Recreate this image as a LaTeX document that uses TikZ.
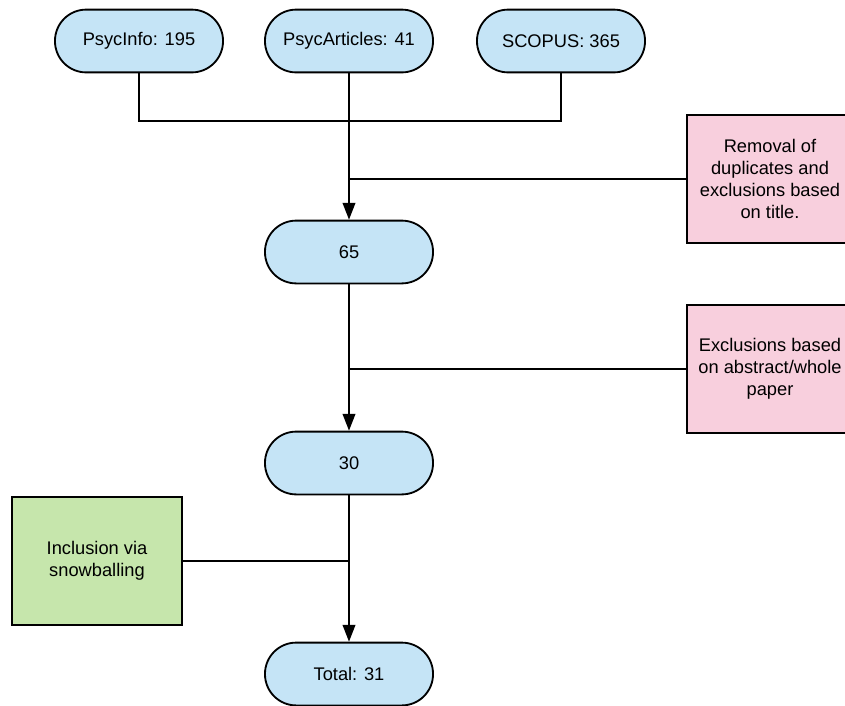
\documentclass[tikz,border=0pt]{standalone}
\usepackage{fontspec}
\setmainfont{Liberation Sans}
\usetikzlibrary{arrows.meta}
\definecolor{dbblue}{RGB}{197,228,246}
\definecolor{exclpink}{RGB}{248,207,221}
\definecolor{inclgreen}{RGB}{198,230,172}

\begin{document}
\begin{tikzpicture}[x=0.025cm,y=-0.025cm,line width=1.3pt,>={Triangle[length=12pt,width=9pt]},
  countbox/.style={draw,fill=dbblue,rounded corners=0.78cm,minimum width=4.2cm,minimum height=1.57cm,align=center,font=\fontsize{13}{15.5}\selectfont},
  exclbox/.style={draw,fill=exclpink,minimum width=4.15cm,minimum height=3.2cm,align=center,font=\fontsize{13}{15.5}\selectfont},
  inclbox/.style={draw,fill=inclgreen,minimum width=4.25cm,minimum height=3.2cm,align=center,font=\fontsize{13}{15.5}\selectfont}]
  \clip (0,0) rectangle (845,705);
  \node[countbox] (psycinfo) at (139,41) {PsycInfo: 195};
  \node[countbox] (psycart) at (349,41) {PsycArticles: 41};
  \node[countbox] (scopus) at (561,41) {SCOPUS: 365};
  \node[countbox] (n65) at (349,252) {65};
  \node[countbox] (n30) at (349,463) {30};
  \node[countbox] (total) at (349,674) {Total: 31};
  \node[exclbox] (dupl) at (770,179) {Removal of\\duplicates and\\exclusions based\\on title.};
  \node[exclbox] (abstr) at (770,369) {Exclusions based\\on abstract/whole\\paper};
  \node[inclbox] (snowb) at (97,561) {Inclusion via\\snowballing};
  \coordinate (merge) at (349,121);
  \draw (psycinfo) |- (merge) -| (scopus);
  \draw[->] (psycart) -- (n65);
  \draw (dupl.west) -- (dupl.west -| psycart);
  \draw[->] (n65) -- (n30);
  \draw (abstr.west) -- (abstr.west -| n65);
  \draw[->] (n30) -- (total);
  \draw (snowb.east) -- (snowb.east -| n30);
\end{tikzpicture}
\end{document}
